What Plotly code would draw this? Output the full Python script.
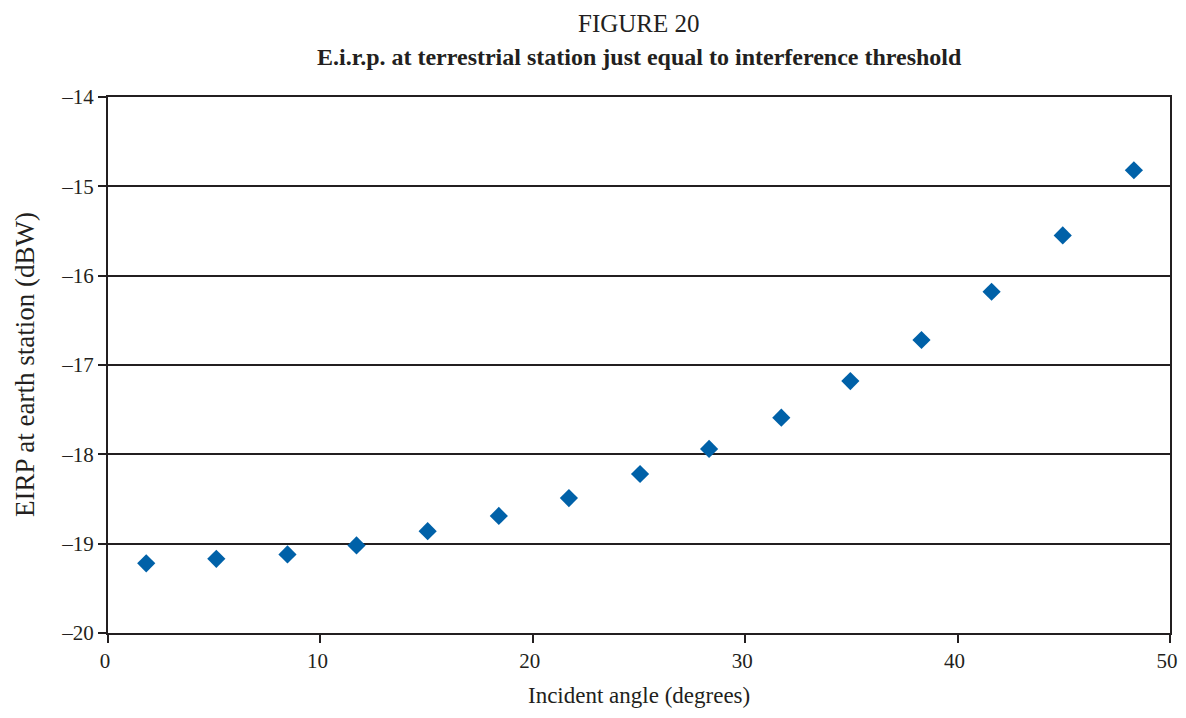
import plotly.graph_objects as go

# Incident angle (degrees) and e.i.r.p. (dBW)
angle = [1.8, 5.1, 8.45, 11.7, 15.05, 18.4, 21.7, 25.05, 28.3, 31.7, 34.95, 38.3, 41.6, 44.95, 48.3]
eirp = [-19.22, -19.17, -19.12, -19.02, -18.86, -18.69, -18.49, -18.22, -17.94,
        -17.59, -17.18, -16.72, -16.18, -15.55, -14.82]

x_ticks = [0, 10, 20, 30, 40, 50]
y_ticks = [-20, -19, -18, -17, -16, -15, -14]
y_labels = ["\u201320", "\u201319", "\u201318", "\u201317", "\u201316", "\u201315", "\u201314"]

INK = "#231f20"
FONT = "Liberation Serif"

# page body keeps its 8px margin, so the figure starts at (8, 8)
W, H = 1170, 702
L, R, T, B = 100, 8, 89, 77
plot_w = W - L - R
plot_h = H - T - B


def py(px):
    # pixel from figure top -> paper y
    return 1 + (T - px) / plot_h


def px_x(px):
    return (px - L) / plot_w


fig = go.Figure(
    go.Scatter(
        x=angle, y=eirp, mode="markers",
        marker=dict(symbol="diamond", size=14, color="#0061a8", line=dict(width=0)),
        showlegend=False,
    )
)

axis_common = dict(
    showline=True, linecolor=INK, linewidth=2, mirror=True,
    ticks="outside", ticklen=8, tickwidth=2, tickcolor=INK,
    tickfont=dict(family=FONT, size=21, color=INK),
    zeroline=False, automargin=False, ticklabeloverflow="allow",
)

fig.update_layout(
    width=W, height=H,
    paper_bgcolor="white", plot_bgcolor="white",
    margin=dict(l=L, r=R, t=T, b=B),
    font=dict(family=FONT, color=INK),
    # labels nudged left a touch so the "50" stays inside the page
    xaxis=dict(range=[0, 50], tickvals=x_ticks, showgrid=False, ticklabelshift=-3, **axis_common),
    yaxis=dict(
        range=[-20, -14], tickvals=y_ticks, ticktext=y_labels,
        showgrid=True, gridcolor=INK, gridwidth=2,
        **axis_common,
    ),
    annotations=[
        dict(text="FIGURE 20", x=0.5, y=py(0), xref="paper", yref="paper",
             yanchor="top", showarrow=False,
             font=dict(family=FONT, size=25, color=INK)),
        dict(text="<b>E.i.r.p. at terrestrial station just equal to interference threshold</b>",
             x=0.5, y=py(49), xref="paper", yref="paper", yanchor="middle", showarrow=False,
             font=dict(family=FONT, size=24, color=INK)),
        dict(text="Incident angle (degrees)", x=0.5, y=py(H), xref="paper", yref="paper",
             yanchor="bottom", showarrow=False,
             font=dict(family=FONT, size=23, color=INK)),
        dict(text="EIRP at earth station (dBW)", x=px_x(0), y=0.5, xref="paper", yref="paper",
             xanchor="left", yanchor="middle", textangle=-90, showarrow=False,
             font=dict(family=FONT, size=27, color=INK)),
    ],
)

fig.write_html("out.html")
